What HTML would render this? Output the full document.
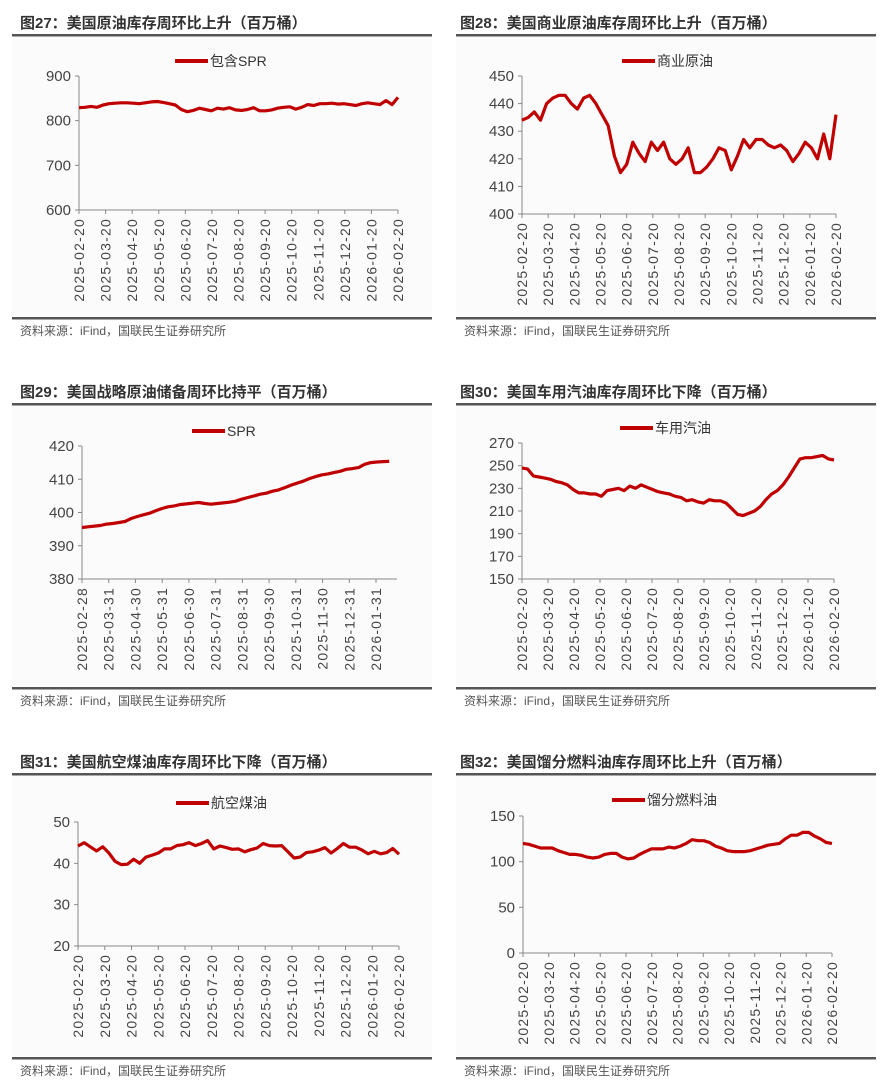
<!DOCTYPE html>
<html><head><meta charset="utf-8"><style>
body{margin:0;background:#fff;width:883px;height:1086px;overflow:hidden;font-family:"Liberation Sans","Noto Sans CJK SC",sans-serif;}
svg{display:block}
</style></head><body>
<svg id="c" width="883" height="1086"></svg>
<script>
const monthTicks13=["2025-02-20","2025-03-20","2025-04-20","2025-05-20","2025-06-20","2025-07-20","2025-08-20","2025-09-20","2025-10-20","2025-11-20","2025-12-20","2026-01-20","2026-02-20"];
const sprTicks=["2025-02-28","2025-03-31","2025-04-30","2025-05-31","2025-06-30","2025-07-31","2025-08-31","2025-09-30","2025-10-31","2025-11-30","2025-12-31","2026-01-31"];
const totalVals=[829,830,832,830,835,838,839,840,840,839,838,840,842,843,841,838,835,825,820,823,828,825,822,828,826,829,824,823,825,829,822,822,824,828,830,831,826,830,836,834,838,838,839,837,838,836,834,838,840,838,836,845,836,852];
const commVals=[434,435,437,434,440,442,443,443,440,438,442,443,440,436,432,421,415,418,426,422,419,426,423,426,420,418,420,424,415,415,417,420,424,423,416,421,427,424,427,427,425,424,425,423,419,422,426,424,420,429,420,436];
const sprVals=[395.5,395.7,395.9,396.1,396.5,396.7,397,397.3,398.2,398.8,399.3,399.8,400.5,401.2,401.7,402,402.4,402.6,402.8,403,402.7,402.5,402.7,402.9,403.1,403.4,404,404.5,405,405.5,405.8,406.4,406.8,407.5,408.2,408.8,409.4,410.2,410.8,411.3,411.6,412,412.4,413,413.2,413.5,414.5,415,415.2,415.3,415.4];
const gasVals=[248,247,241,240,239,238,236,235,233,229,226,226,225,225,223,228,229,230,228,232,230,233,231,229,227,226,225,223,222,219,220,218,217,220,219,219,217,212,207,206,208,210,214,220,225,228,233,240,248,256,257,257,258,259,256,255];
const jetVals=[44.2,45,44,43,44,42.5,40.5,39.7,39.8,41,40,41.5,42,42.5,43.5,43.5,44.3,44.5,45,44.3,44.8,45.5,43.5,44.2,43.8,43.4,43.5,42.8,43.3,43.7,44.8,44.3,44.2,44.3,42.8,41.3,41.5,42.6,42.8,43.2,43.8,42.5,43.6,44.8,43.9,43.9,43.2,42.3,42.9,42.3,42.6,43.6,42.2];
const distVals=[120,119,117,115,115,115,112,110,108,108,107,105,104,105,108,109,109,105,103,104,108,111,114,114,114,116,115,117,120,124,123,123,121,117,115,112,111,111,111,112,114,116,118,119,120,125,129,129,132,132,128,125,121,120];
const yT27=[600,700,800,900],yT28=[400,410,420,430,440,450],yT29=[380,390,400,410,420],yT30=[150,170,190,210,230,250,270],yT31=[20,30,40,50],yT32=[0,50,100,150];

const NS="http://www.w3.org/2000/svg",svg=document.getElementById('c');
function mk(t,a,p){const e=document.createElementNS(NS,t);for(const k in a)e.setAttribute(k,a[k]);(p||svg).appendChild(e);return e;}
function panel(c){
  const g=mk('g',{});
  
  
  mk('rect',{x:c.px,y:c.top+2,width:420,height:c.bot-c.top-3,fill:'#fbfbfb'},g);
  const t=mk('text',{x:c.px+c.tx,y:c.top-6,'font-size':15,'font-weight':'bold',fill:'#333'},g);t.textContent=c.title;
  
  
  mk('rect',{x:c.px,y:c.top,width:420,height:2.5,fill:'#555'},g);
  mk('rect',{x:c.px,y:c.bot,width:420,height:2.5,fill:'#555'},g);
  const s=mk('text',{x:c.px+8,y:c.bot+18,'font-size':12,fill:'#555'},g);s.textContent='资料来源：iFind，国联民生证券研究所';
  
  
  const lg=mk('g',{},g);
  
  
  mk('line',{x1:c.lx,x2:c.lx+33,y1:c.ly,y2:c.ly,stroke:'#c00000','stroke-width':4},lg);
  const lt=mk('text',{x:c.lx+35,y:c.ly+5,'font-size':14,fill:'#333'},lg);lt.textContent=c.legend;
  const [y0v,y1v]=[c.yt[0],c.yt[c.yt.length-1]];
  const Y=v=>c.yb+(v-y0v)/(y1v-y0v)*(c.ytop-c.yb);
  const X=c.X;
  mk('line',{x1:c.x0,x2:c.x0,y1:c.ytop,y2:c.yb,stroke:'#888','stroke-width':1},g);
  mk('line',{x1:c.x0,x2:c.x1,y1:c.yb,y2:c.yb,stroke:'#888','stroke-width':1},g);
  c.yt.forEach(v=>{const y=Y(v);mk('line',{x1:c.x0-4,x2:c.x0,y1:y,y2:y,stroke:'#888'},g);
    const tx=mk('text',{x:c.x0-8,y:y+5,'font-size':15,fill:'#444','text-anchor':'end'},g);tx.textContent=v;
    
    });
  c.xt.forEach((lab,k)=>{const x=c.TX(k);mk('line',{x1:x,x2:x,y1:c.yb,y2:c.yb+4,stroke:'#888'},g);
    const tx=mk('text',{x:0,y:0,'font-size':14,'letter-spacing':1.2,fill:'#444','text-anchor':'end',transform:`translate(${x+5},${c.yb+8}) rotate(-90)`},g);tx.textContent=lab;
    
    });
  const d=c.vals.map((v,i)=>(i?'L':'M')+X(i,c.vals.length).toFixed(1)+','+Y(v).toFixed(1)).join('');
  const p=mk('path',{d,fill:'none',stroke:'#c00000','stroke-width':3.2,'stroke-linejoin':'round'},g);
  
  
}
function even(x0,x1,nt){return {X:(i,n)=>x0+i*(x1-x0)/(n-1),TX:k=>x0+k*(x1-x0)/(nt-1)};}
const rows=[{t:34,b:317},{t:403,b:687},{t:773,b:1057}];
const LP=12,RP=456,LT=8,RT=4;
let e;
e=even(79,398,13);panel({name:'chart-27-total-crude',px:LP,tx:LT,top:rows[0].t,bot:rows[0].b,title:'图27：美国原油库存周环比上升（百万桶）',legend:'包含SPR',lx:175,ly:61,x0:79,x1:398,ytop:76,yb:210,yt:yT27,xt:monthTicks13,vals:totalVals,...e});
e=even(522,836,13);panel({name:'chart-28-commercial-crude',px:RP,tx:RT,top:rows[0].t,bot:rows[0].b,title:'图28：美国商业原油库存周环比上升（百万桶）',legend:'商业原油',lx:622,ly:61,x0:522,x1:836,ytop:76,yb:214,yt:yT28,xt:monthTicks13,vals:commVals,...e});
const wk=(376-82)/(11*4.35);
panel({name:'chart-29-spr',px:LP,tx:LT,top:rows[1].t,bot:rows[1].b,title:'图29：美国战略原油储备周环比持平（百万桶）',legend:'SPR',lx:192,ly:431,x0:82,x1:397,ytop:446,yb:579,yt:yT29,xt:sprTicks,vals:sprVals,X:(i,n)=>82+i*wk,TX:k=>82+k*4.35*wk});
e=even(522,834,13);panel({name:'chart-30-gasoline',px:RP,tx:RT,top:rows[1].t,bot:rows[1].b,title:'图30：美国车用汽油库存周环比下降（百万桶）',legend:'车用汽油',lx:620,ly:428,x0:522,x1:834,ytop:443,yb:579,yt:yT30,xt:monthTicks13,vals:gasVals,...e});
e=even(78,399,13);panel({name:'chart-31-jet-fuel',px:LP,tx:LT,top:rows[2].t,bot:rows[2].b,title:'图31：美国航空煤油库存周环比下降（百万桶）',legend:'航空煤油',lx:176,ly:803,x0:78,x1:399,ytop:822,yb:946,yt:yT31,xt:monthTicks13,vals:jetVals,...e});
e=even(523,832,13);panel({name:'chart-32-distillate',px:RP,tx:RT,top:rows[2].t,bot:rows[2].b,title:'图32：美国馏分燃料油库存周环比上升（百万桶）',legend:'馏分燃料油',lx:612,ly:800,x0:523,x1:832,ytop:816,yb:953,yt:yT32,xt:monthTicks13,vals:distVals,...e});
</script>
</body></html>
